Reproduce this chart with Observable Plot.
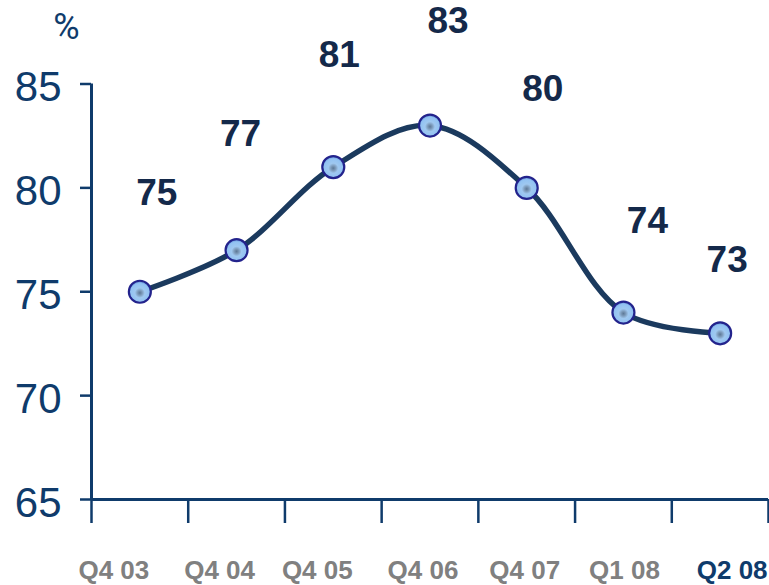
<!DOCTYPE html>
<html>
<head>
<meta charset="utf-8">
<script src="https://cdn.jsdelivr.net/npm/d3@7"></script>
<script src="https://cdn.jsdelivr.net/npm/@observablehq/plot@0.6"></script>
<style>
  html, body { margin: 0; padding: 0; background: #fff; }
  #chart svg { display: block; }
  g[aria-label="ylabels"] text { transform-box: fill-box; transform-origin: right center; transform: scaleX(0.84); }
  g[aria-label="vlabels"] text { transform-box: fill-box; transform-origin: center; transform: scaleX(0.9); }
  g[aria-label="clabels"] text { letter-spacing: -1px; }
</style>
</head>
<body>
<div id="chart"></div>
<script>
// ---- data ----
const categories = ["Q4 03", "Q4 04", "Q4 05", "Q4 06", "Q4 07", "Q1 08", "Q2 08"];
const values = [75, 77, 81, 83, 80, 74, 73];
const yTicks = [65, 70, 75, 80, 85];
const unitLabel = "%";

// ---- layout / style (not data) ----
const navy = "#0f3b6b";
const lineColor = "#1b3a5e";
const labelColor = "#14294a";
const greyLabel = "#808080";
const highlightIndex = 6;
// pixel offsets of the value labels relative to their points
const valueLabelOffsets = [[17, -99], [4, -116], [6, -112], [18, -104], [16, -99], [24, -91], [7, -73]];
// pixel offsets of category labels relative to band centres
const catLabelDx = [-26, -17, -16, -7, -2, 1, 12];

const data = categories.map((c, i) => ({cat: c, i, x: i + 0.5, value: values[i]}));
const sans = "'Liberation Sans', Arial, sans-serif";

const valueLabelMarks = data.map((d, k) =>
  Plot.text([d], {
    x: "x", y: "value", text: d => String(d.value),
    dx: valueLabelOffsets[k][0], dy: valueLabelOffsets[k][1],
    fontSize: 37, fontWeight: "bold", fontFamily: sans,
    fill: labelColor, textAnchor: "middle", lineAnchor: "middle",
    ariaLabel: "vlabels"
  })
);

const catLabelMarks = data.map((d, k) =>
  Plot.text([d], {
    x: "x", text: "cat", frameAnchor: "bottom",
    dx: catLabelDx[k], dy: 71,
    fontSize: 26, fontWeight: "bold", fontFamily: sans,
    fill: k === highlightIndex ? navy : greyLabel,
    textAnchor: "middle", lineAnchor: "middle",
    ariaLabel: "clabels"
  })
);

const chart = Plot.plot({
  width: 769,
  height: 585,
  marginLeft: 91,
  marginRight: 1,
  marginTop: 83.5,
  marginBottom: 86,
  style: {background: "#fff", overflow: "visible"},
  x: {type: "linear", domain: [0, categories.length], axis: null},
  y: {domain: [65, 85], axis: null},
  marks: [
    // y axis ticks
    Plot.axisY({ticks: yTicks, tickSize: 11, tickFormat: () => "", stroke: navy, strokeWidth: 2.5, label: null}),
    // y tick labels
    Plot.text(yTicks, {
      y: d => d, text: d => String(d), frameAnchor: "left", dx: -30, dy: 4,
      textAnchor: "end", lineAnchor: "middle",
      fontSize: 42, fontFamily: sans, fill: navy, ariaLabel: "ylabels"
    }),
    // x axis boundary ticks
    Plot.axisX({ticks: d3.range(categories.length + 1), tickSize: 24, tickFormat: () => "", stroke: navy, strokeWidth: 2.5, label: null}),
    // axis lines
    Plot.ruleX([0], {stroke: navy, strokeWidth: 3}),
    Plot.ruleY([65], {stroke: navy, strokeWidth: 3}),
    // unit
    Plot.text([unitLabel], {frameAnchor: "top-left", dx: -25, dy: -57, text: d => d, fontSize: 36, fill: navy, fontFamily: "Roboto, sans-serif", textAnchor: "middle", lineAnchor: "middle", ariaLabel: "unit"}),
    // line
    Plot.line(data, {x: "x", y: "value", curve: "catmull-rom", stroke: lineColor, strokeWidth: 5.5}),
    // markers
    Plot.dot(data, {x: "x", y: "value", r: 11, fill: "url(#mkgrad)", stroke: "#23238c", strokeWidth: 2.2}),
    ...valueLabelMarks,
    ...catLabelMarks
  ]
});

// gradient for the markers
const svg = d3.select(chart);
const defs = svg.insert("defs", ":first-child");
const g = defs.append("radialGradient").attr("id", "mkgrad").attr("cx", "0.5").attr("cy", "0.55").attr("r", "0.5");
[["0%", "#5d7896"], ["22%", "#7e9cbc"], ["45%", "#9fc8f0"], ["85%", "#92c2f2"], ["100%", "#6f9fe0"]].forEach(([o, c]) =>
  g.append("stop").attr("offset", o).attr("stop-color", c));

document.getElementById("chart").appendChild(chart);
</script>
</body>
</html>
